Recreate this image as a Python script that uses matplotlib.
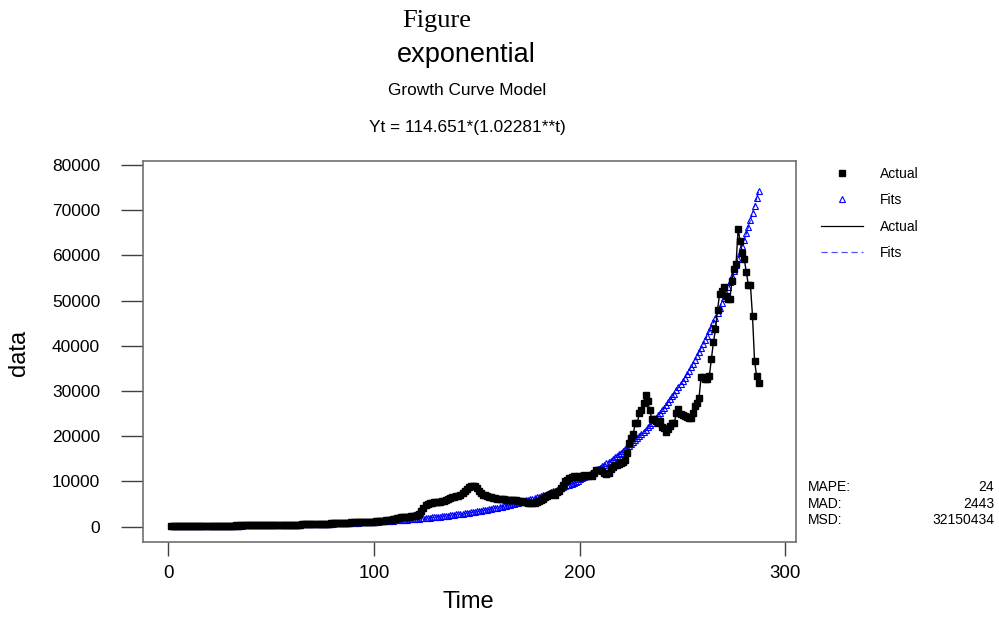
import numpy as np
import matplotlib
matplotlib.use('Agg')
import matplotlib.pyplot as plt
from matplotlib.lines import Line2D

plt.rcParams['font.family'] = ['Liberation Sans', 'DejaVu Sans']

# Actual values, t = 1 .. 287
actual = [
    120, 110, 130, 140, 150, 140, 160, 170, 160, 180,
    170, 190, 200, 180, 210, 200, 190, 220, 210, 230,
    220, 240, 230, 210, 250, 240, 230, 260, 250, 240,
    230, 250, 270, 260, 280, 270, 290, 300, 280, 300,
    310, 300, 320, 310, 300, 290, 310, 330, 320, 340,
    350, 340, 360, 370, 360, 380, 390, 400, 410, 420,
    440, 450, 460, 480, 490, 500, 520, 530, 540, 560,
    580, 600, 610, 630, 650, 660, 680, 700, 720, 740,
    760, 780, 800, 820, 840, 860, 880, 900, 930, 950,
    970, 990, 1010, 1030, 1050, 1060, 1080, 1100, 1110, 1130,
    1150, 1180, 1220, 1260, 1300, 1380, 1450, 1550, 1650, 1750,
    1850, 1950, 2050, 2100, 2150, 2200, 2250, 2300, 2350, 2400, 2500,
    2800, 3400, 4200, 4800, 5100,
    5200, 5300, 5400, 5400, 5500, 5500, 5600, 5700,
    5900, 6200, 6400, 6500, 6600, 6700, 6800, 7000,
    7400, 7900, 8400, 8800, 9000, 9100, 8900,
    8500, 8000, 7500, 7100, 6900, 6700,
    6600, 6500, 6400, 6300, 6200, 6200, 6100,
    6100, 6000, 6000, 5900, 5900, 5800, 5800, 5700, 5700, 5600,
    5500, 5400, 5300, 5300, 5200, 5300, 5400, 5600,
    5800, 6200, 6600, 6700, 7000, 7300, 7400, 7100, 7600, 7800,
    8500, 9200, 10000, 10400, 10800, 11000, 11200, 10900, 11100,
    11000, 11200, 11400, 11100, 11300, 11500, 11200, 11800, 12500, 12600,
    12600, 12400, 11900, 11700, 11900, 12800, 13300, 13600, 13700, 13900,
    14100, 14300, 14800, 16300, 18500, 19600, 20500, 22900, 23000, 25200,
    25900, 27400, 29200, 27700, 25900, 23700, 23700, 23300, 23000, 23300,
    22000, 21800, 21000, 21500, 22200, 22900, 23000, 25200, 26000, 25000,
    24800, 24500, 24200, 24100, 24000, 25200, 26600, 27400, 28500, 33200,
    33000, 32700, 32600, 33300, 37000, 40800, 43600, 48000, 51400, 52000,
    53000, 51000, 50400, 50300, 54300, 57000, 58000, 65800, 63200, 60500,
    59200, 56200, 53400, 53400, 46500, 36600, 33300, 31800,
]

# Growth curve model coefficients (from the title)
a = 114.651
b = 1.02281

t = np.arange(1, len(actual) + 1)
fits = a * b ** t

fig = plt.figure(figsize=(9.99, 6.17), dpi=100)
ax = fig.add_axes([0.1434, 0.122, 0.6533, 0.6175])

# Actual: black squares joined by a thin line
ax.plot(t, actual, color='black', lw=1.0, marker='s', ms=4.2, zorder=3)
# Fits: blue dashed line with open triangles
ax.plot(t, fits, color='blue', lw=0.8, ls='--', marker='^', ms=4.2,
        mfc='none', mew=0.8, zorder=2)

ax.set_xlim(-12.25, 305.1)
ax.set_ylim(-3324, 80900)
ax.set_xticks([0, 100, 200, 300])
ax.set_yticks(np.arange(0, 80001, 10000))

for s in ax.spines.values():
    s.set_color('#707070')
    s.set_linewidth(1.2)
ax.tick_params(axis='y', length=16, width=1, color='#404040', pad=15,
               labelsize=12.5)
ax.tick_params(axis='x', length=10, width=1, color='#404040', pad=7,
               labelsize=13.5)

ax.set_xlabel('Time', fontsize=17)
ax.xaxis.set_label_coords(0.498, -0.158)
ax.xaxis.label.set_va('center')
ax.set_ylabel('data', fontsize=17)
ax.yaxis.set_label_coords(-0.191, 0.495)
ax.yaxis.label.set_va('center')

# Titles
fig.text(0.4372, 0.966, 'Figure', family='Liberation Serif', fontsize=19,
         ha='center', va='center')
fig.text(0.467, 0.900, 'exponential', fontsize=19.5, ha='center',
         va='baseline')
fig.text(0.4675, 0.846, 'Growth Curve Model', fontsize=12.4, ha='center',
         va='baseline')
fig.text(0.4675, 0.7866, 'Yt = 114.651*(1.02281**t)', fontsize=12.4,
         ha='center', va='baseline')

# Legend
handles = [
    Line2D([], [], ls='none', marker='s', ms=4.2, color='black'),
    Line2D([], [], ls='none', marker='^', ms=4.2, mfc='none', mew=0.8,
           color='blue'),
    Line2D([], [], color='black', lw=0.9),
    Line2D([], [], color='#5050ff', lw=0.9, ls=(0, (5, 3))),
]
fig.legend(handles, ['Actual', 'Fits', 'Actual', 'Fits'],
           loc='upper left', bbox_to_anchor=(0.822, 0.73), frameon=False,
           fontsize=10, handlelength=3.0, handletextpad=1.2,
           labelspacing=0.9, borderpad=0, borderaxespad=0)

# Accuracy measures
measures = ['MAPE:', 'MAD:', 'MSD:']
measure_vals = ['24', '2443', '32150434']
for i, (m, v) in enumerate(zip(measures, measure_vals)):
    y = 0.2107 - i * 0.0268
    fig.text(0.809, y, m, fontsize=10, ha='left', va='center')
    fig.text(0.995, y, v, fontsize=10, ha='right', va='center')

fig.savefig('out.png', dpi=100)
